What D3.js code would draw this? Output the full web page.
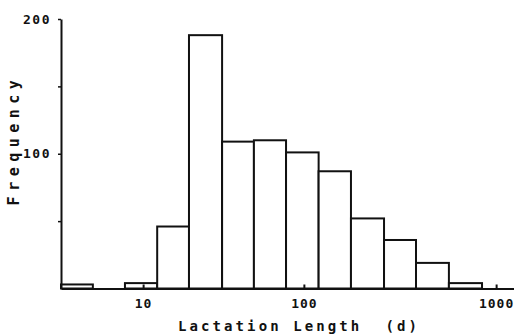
<!DOCTYPE html>
<html>
<head>
<meta charset="utf-8">
<script src="https://cdn.jsdelivr.net/npm/d3@7"></script>
<style>
  body { margin: 0; background: #fff; }
  text { font-family: "DejaVu Sans Mono", monospace; font-weight: bold; fill: #111; }
</style>
</head>
<body>
<div id="mount"></div>
<script>
'use strict';

// bin edges (days) and counts
const binEdges = [0, 2.8, 6.9, 12.9, 21.5, 34.6, 53, 80, 120, 178, 265, 388, 573, 847];
const counts = [3, 0, 4, 46, 188, 109, 110, 101, 87, 52, 36, 19, 4];
const xTicks = [10, 100, 1000];
const yTicks = [50, 100, 150, 200];
const yLabels = [100, 200];

const bins = counts.map((c, i) => ({ x0: binEdges[i], x1: binEdges[i + 1], n: c }));

const width = 514, height = 334;
const margin = { top: 19, left: 61, bottom: 45.5, right: 0 };

const svg = d3.select('#mount').append('svg')
    .attr('width', width)
    .attr('height', height);

// the original axis behaves like log(d + c), which symlog reproduces
const x = d3.scaleSymlog()
    .constant(6.2)
    .domain([0, 1234])
    .range([margin.left, width - margin.right]);

const y = d3.scaleLinear()
    .domain([0, 200])
    .range([height - margin.bottom, margin.top]);

// bars
svg.append('g')
  .selectAll('rect')
  .data(bins.filter(d => d.n > 0))
  .join('rect')
    .attr('x', d => x(d.x0))
    .attr('width', d => x(d.x1) - x(d.x0))
    .attr('y', d => y(d.n))
    .attr('height', d => y(0) - y(d.n))
    .style('fill', '#fff')
    .style('stroke', '#111')
    .style('stroke-width', 2);

// x axis: line plus short inward ticks
const xAxis = svg.append('g')
    .attr('transform', `translate(0, ${y(0)})`)
    .call(d3.axisBottom(x).tickValues(xTicks).tickSize(-4).tickSizeOuter(0).tickPadding(10)
      .tickFormat(d3.format('d')));
xAxis.select('.domain').style('stroke', '#111').style('stroke-width', 2);
xAxis.selectAll('.tick line').style('stroke', '#111').style('stroke-width', 2);
xAxis.selectAll('.tick text')
    .style('font-size', '13px')
    .style('letter-spacing', '1px');

// y axis
const yAxis = svg.append('g')
    .attr('transform', `translate(${margin.left}, 0)`)
    .call(d3.axisLeft(y).tickValues(yTicks).tickSize(3).tickSizeOuter(0).tickPadding(7)
      .tickFormat(d => yLabels.includes(d) ? d : ''));
yAxis.select('.domain').style('stroke', '#111').style('stroke-width', 2);
yAxis.selectAll('.tick line').style('stroke', '#111').style('stroke-width', 1.5);
yAxis.selectAll('.tick text')
    .style('font-size', '13px')
    .style('letter-spacing', '1.5px');

// axis titles
svg.append('text')
    .attr('x', 299)
    .attr('y', 331)
    .attr('text-anchor', 'middle')
    .style('font-size', '14px')
    .style('letter-spacing', '3.1px')
    .style('white-space', 'pre')
    .text('Lactation Length  (d)');

svg.append('text')
    .attr('transform', 'translate(19, 140) rotate(-90)')
    .attr('text-anchor', 'middle')
    .style('font-size', '15px')
    .style('letter-spacing', '5.5px')
    .text('Frequency');
</script>
</body>
</html>
